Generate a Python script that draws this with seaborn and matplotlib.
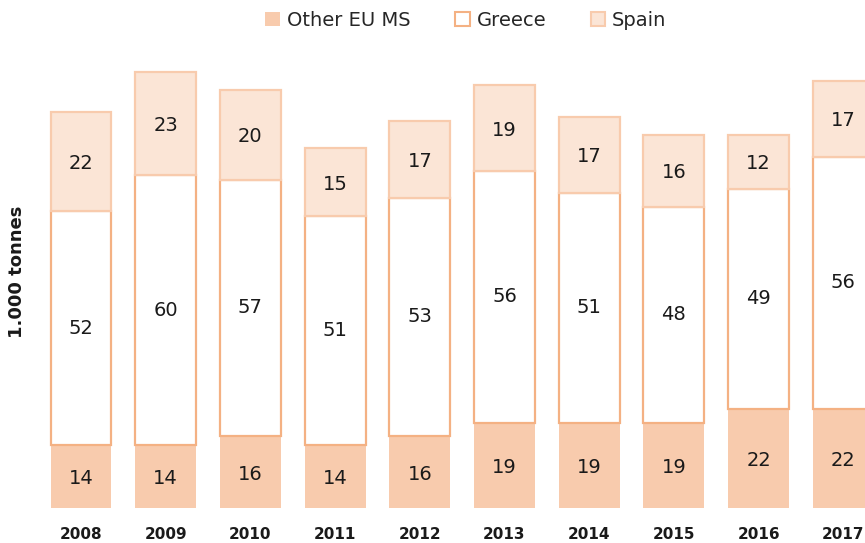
import matplotlib
matplotlib.use("Agg")
import matplotlib.pyplot as plt
from matplotlib.patches import Patch
import seaborn as sns
import pandas as pd

years = ["2008", "2009", "2010", "2011", "2012", "2013", "2014", "2015", "2016", "2017"]
other_eu = [14, 14, 16, 14, 16, 19, 19, 19, 22, 22]
greece = [52, 60, 57, 51, 53, 56, 51, 48, 49, 56]
spain = [22, 23, 20, 15, 17, 19, 17, 16, 12, 17]

df = pd.DataFrame({"year": years, "other": other_eu, "greece": greece, "spain": spain})
df["base_spain"] = df["other"] + df["greece"]

sns.set_theme(style="white")
plt.rcParams["font.family"] = ["DejaVu Sans"]

c_other = "#F8CBAD"
c_edge = "#F4B183"
c_spain = "#FBE5D6"
c_spain_edge = "#F8CBAD"
txt = "#1a1a1a"

fig = plt.figure(figsize=(8.65, 5.43), dpi=100)
ax = fig.add_axes([0, 35 / 543, 1, 508 / 543])

w = 0.72
sns.barplot(data=df, x="year", y="other", color=c_other, width=w,
            edgecolor="none", linewidth=0, saturation=1, ax=ax)
sns.barplot(data=df, x="year", y="greece", bottom=df["other"], color="white", width=w,
            edgecolor=c_edge, linewidth=1.6, saturation=1, ax=ax)
sns.barplot(data=df, x="year", y="spain", bottom=df["base_spain"], color=c_spain, width=w,
            edgecolor=c_spain_edge, linewidth=1.6, saturation=1, ax=ax)

for i in range(len(years)):
    ax.text(i, other_eu[i] / 2 - 0.5, str(other_eu[i]), ha="center", va="center", fontsize=14, color=txt)
    ax.text(i, other_eu[i] + greece[i] / 2, str(greece[i]), ha="center", va="center", fontsize=14, color=txt)
    ax.text(i, other_eu[i] + greece[i] + spain[i] / 2 - 0.5, str(spain[i]), ha="center", va="center",
            fontsize=14, color=txt)

ax.set_xlim(-81 / 84.7, (865 - 81) / 84.7)
ax.set_ylim(0, 508 / 4.5)
ax.set_xlabel("")
ax.set_ylabel("")
ax.set_yticks([])
ax.tick_params(axis="x", length=0, pad=14)
for lab in ax.get_xticklabels():
    lab.set_fontweight("bold")
    lab.set_fontsize(11)
    lab.set_color(txt)
sns.despine(ax=ax, left=True, bottom=True)

fig.text(17 / 865, 1 - 272 / 543, "1.000 tonnes", rotation=90, ha="center", va="center",
         fontsize=13, fontweight="bold", color=txt)

handles = [Patch(facecolor=c_other, edgecolor="none"),
           Patch(facecolor="white", edgecolor=c_edge, linewidth=1.5),
           Patch(facecolor=c_spain, edgecolor=c_spain_edge, linewidth=1.5)]
fig.legend(handles, ["Other EU MS", "Greece", "Spain"], loc="center", bbox_to_anchor=(466 / 865, 1 - 20 / 543),
           ncol=3, frameon=False, fontsize=14, handlelength=0.75, handleheight=0.75,
           handletextpad=0.35, columnspacing=2.3)

fig.savefig("out.png", dpi=100)
